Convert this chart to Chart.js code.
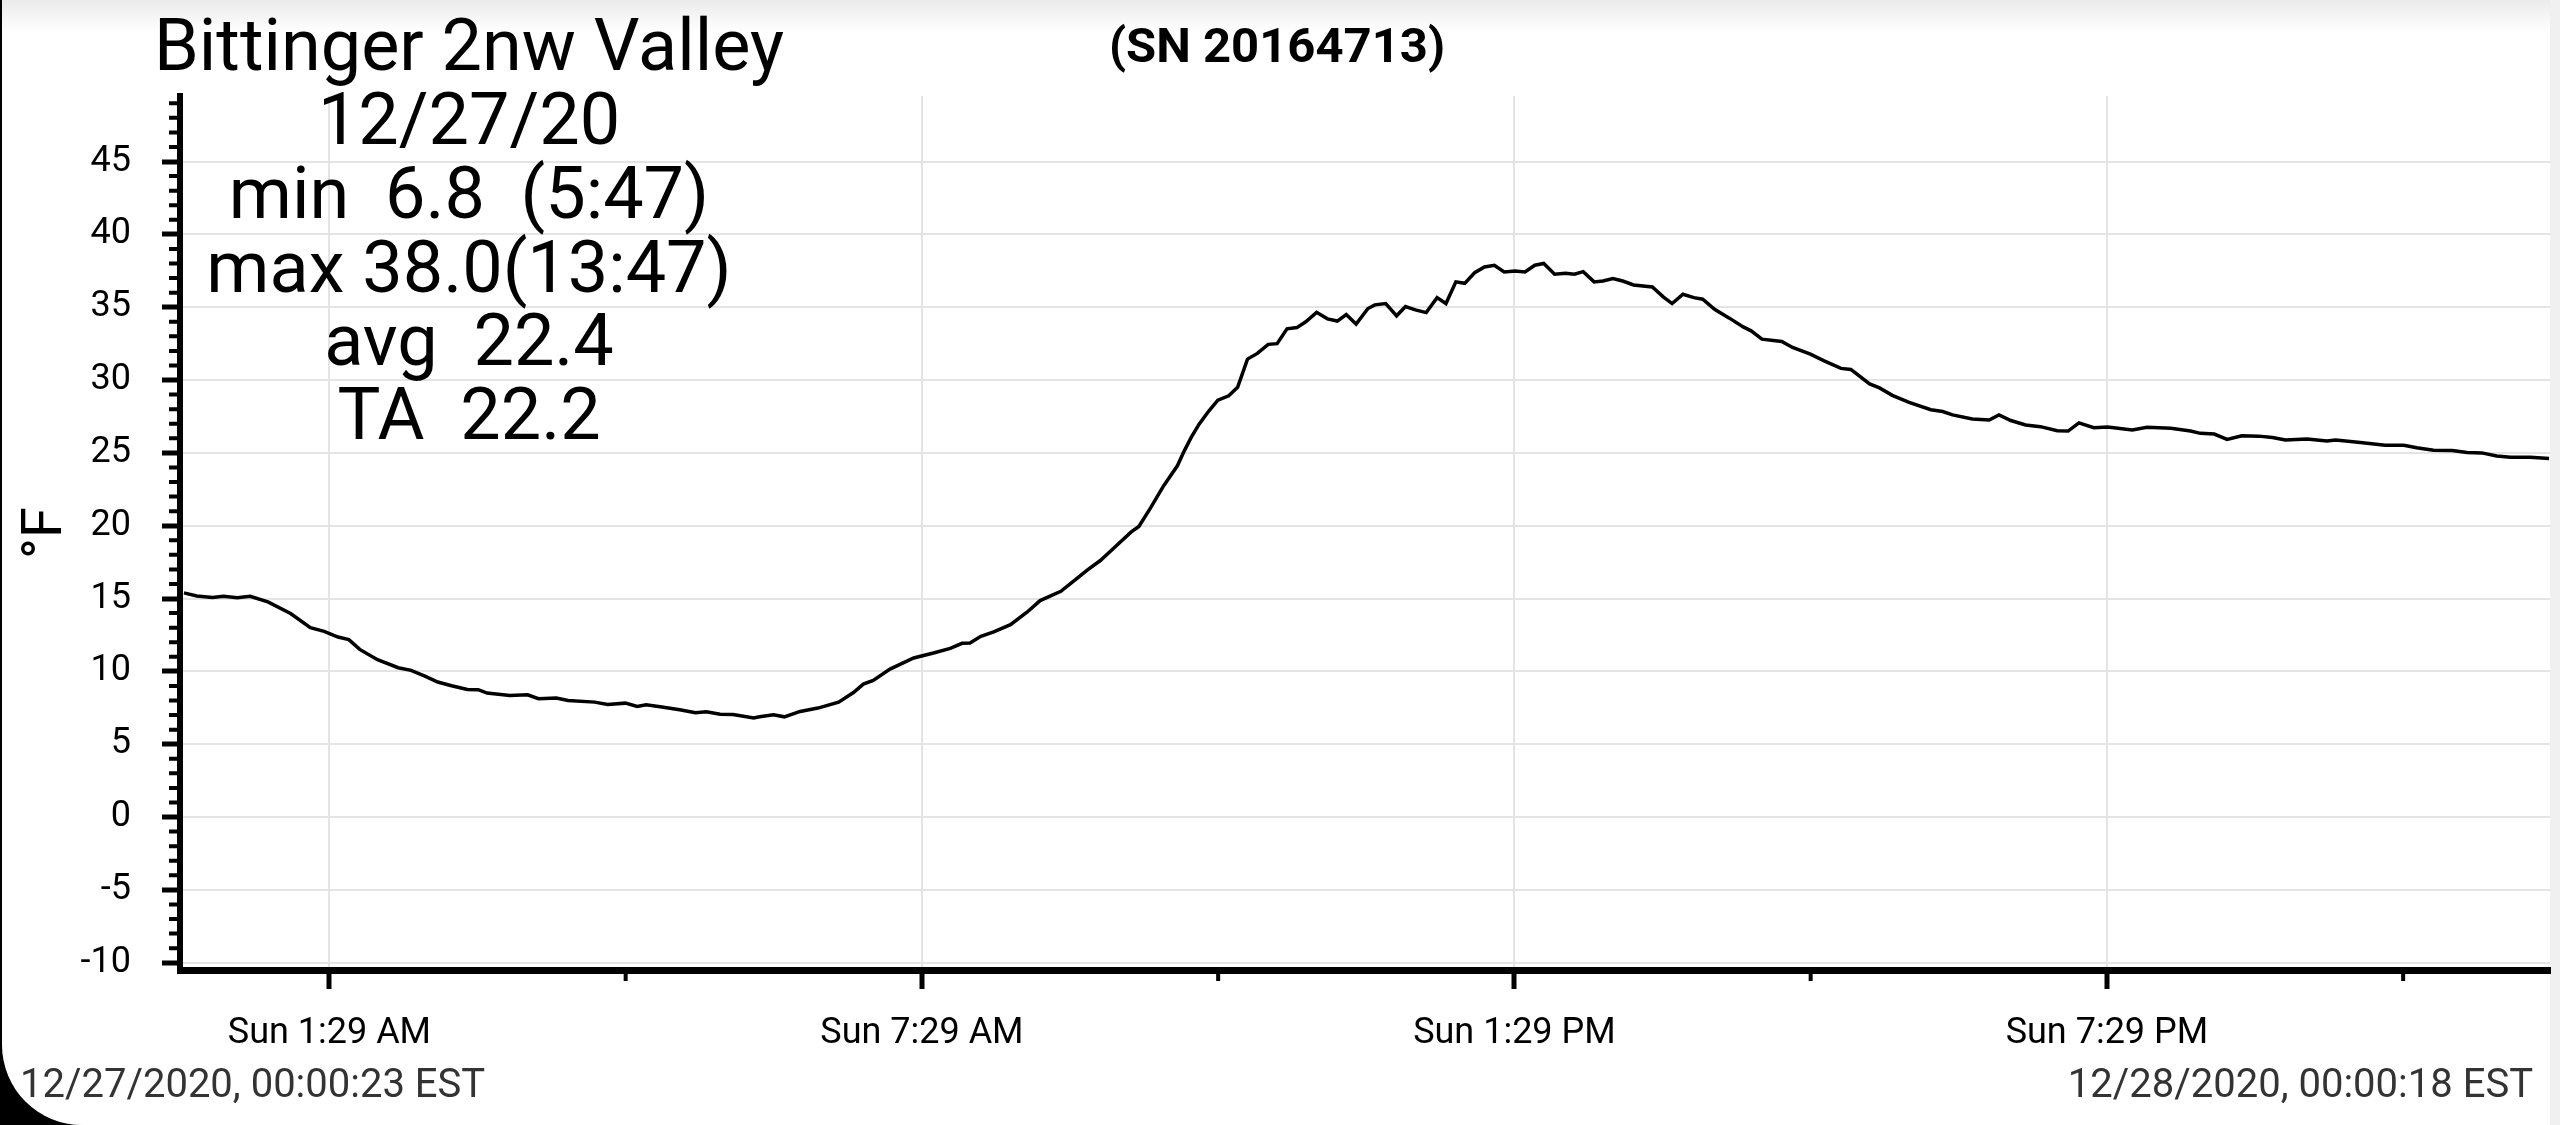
<!DOCTYPE html>
<html>
<head>
<meta charset="utf-8">
<script src="https://cdn.jsdelivr.net/npm/chart.js@4.4.1/dist/chart.umd.min.js"></script>
<style>
  html, body { margin: 0; padding: 0; background: #000; }
  #frame { position: absolute; left: 0; top: 0; width: 2560px; height: 1125px; overflow: hidden; background: #000; }
  #panel { position: absolute; left: 2px; top: 0; width: 2548px; height: 1125px;
           background: linear-gradient(#ebebeb 0px, #ffffff 32px); border-bottom-left-radius: 80px; }
  #edge { position: absolute; left: 2550px; top: 0; width: 10px; height: 1125px; background: #f0f0f0; }
  #chart { position: absolute; left: 0; top: 0; }
</style>
</head>
<body>
<div id="frame">
  <div id="panel"></div>
  <div id="edge"></div>
  <canvas id="chart" width="2560" height="1125"></canvas>
</div>
<script>
// hours since midnight 12/27/2020 (EST)
const hours = [
  0.01, 0.14, 0.30, 0.41, 0.55, 0.68, 0.86, 1.09, 1.29, 1.43, 1.57, 1.68, 1.79, 1.97,
  2.18, 2.31, 2.45, 2.58, 2.72, 2.88, 2.99, 3.08, 3.31, 3.49, 3.60, 3.78, 3.90, 4.17,
  4.30, 4.48, 4.60, 4.69, 4.85, 5.03, 5.19, 5.30, 5.44, 5.57, 5.78, 5.84, 5.98, 6.09,
  6.25, 6.43, 6.64, 6.79, 6.89, 6.99, 7.16, 7.40, 7.60, 7.77, 7.89, 7.97, 8.08, 8.21,
  8.38, 8.55, 8.68, 8.89, 9.06, 9.16, 9.29, 9.43, 9.60, 9.68, 9.80, 9.93, 10.07, 10.14,
  10.21, 10.29, 10.39, 10.48, 10.59, 10.68, 10.78, 10.88, 10.99, 11.08, 11.18, 11.28,
  11.37, 11.48, 11.59, 11.69, 11.78, 11.88, 12.00, 12.07, 12.18, 12.29, 12.38, 12.48,
  12.59, 12.70, 12.79, 12.89, 12.98, 13.08, 13.18, 13.28, 13.38, 13.49, 13.59, 13.69,
  13.78, 13.89, 14.00, 14.09, 14.18, 14.29, 14.38, 14.48, 14.58, 14.69, 14.88, 14.99,
  15.08, 15.19, 15.30, 15.39, 15.51, 15.66, 15.80, 15.88, 15.99, 16.19, 16.30, 16.48,
  16.62, 16.79, 16.89, 17.08, 17.18, 17.31, 17.48, 17.70, 17.82, 17.92, 18.12, 18.29,
  18.39, 18.51, 18.66, 18.81, 18.98, 19.09, 19.20, 19.35, 19.49, 19.74, 19.89, 20.13,
  20.33, 20.43, 20.57, 20.70, 20.85, 21.02, 21.16, 21.29, 21.51, 21.71, 21.80, 22.05,
  22.30, 22.49, 22.62, 22.79, 22.98, 23.13, 23.28, 23.43, 23.57, 23.77, 23.96
];
const tempF = [
  15.39, 15.18, 15.07, 15.16, 15.05, 15.16, 14.77, 13.97, 13.00, 12.75, 12.36, 12.18, 11.51, 10.80,
  10.25, 10.07, 9.68, 9.27, 9.01, 8.76, 8.74, 8.51, 8.35, 8.39, 8.12, 8.17, 8.00, 7.89,
  7.73, 7.82, 7.59, 7.71, 7.55, 7.36, 7.16, 7.22, 7.06, 7.04, 6.80, 6.88, 7.02, 6.88,
  7.25, 7.48, 7.89, 8.55, 9.13, 9.38, 10.16, 10.92, 11.26, 11.58, 11.93, 11.95, 12.41, 12.71,
  13.21, 14.08, 14.86, 15.50, 16.42, 16.97, 17.61, 18.49, 19.56, 19.95, 21.24, 22.73, 24.11, 25.14,
  26.06, 26.97, 27.89, 28.62, 28.92, 29.50, 31.44, 31.83, 32.45, 32.50, 33.52, 33.60,
  34.00, 34.65, 34.20, 34.05, 34.50, 33.84, 34.91, 35.16, 35.25, 34.41, 35.05, 34.82,
  34.63, 35.66, 35.25, 36.74, 36.64, 37.37, 37.76, 37.88, 37.42, 37.49, 37.42, 37.88,
  38.00, 37.26, 37.33, 37.26, 37.44, 36.74, 36.80, 36.96, 36.80, 36.53, 36.39, 35.71,
  35.25, 35.89, 35.66, 35.55, 34.86, 34.25, 33.65, 33.38, 32.81, 32.65, 32.24, 31.78,
  31.32, 30.80, 30.73, 29.73, 29.46, 28.95, 28.46, 27.96, 27.84, 27.61, 27.33, 27.26,
  27.61, 27.22, 26.92, 26.80, 26.52, 26.50, 27.06, 26.73, 26.78, 26.57, 26.76, 26.69,
  26.50, 26.34, 26.29, 25.92, 26.18, 26.15, 26.06, 25.88, 25.95, 25.81, 25.88, 25.72,
  25.53, 25.53, 25.35, 25.18, 25.16, 25.02, 25.00, 24.79, 24.70, 24.70, 24.61
];

// x ticks every 3 h starting 1:29, labels on every other one
const xTickHours = [1.483, 4.483, 7.483, 10.483, 13.483, 16.483, 19.483, 22.483];
const xTickLabels = ['Sun 1:29 AM', '', 'Sun 7:29 AM', '', 'Sun 1:29 PM', '', 'Sun 7:29 PM', ''];
const xRange = [-0.03, 23.97];
const yRange = [-10.5, 49.5];
const yLabelStep = 5;

const stationName = 'Bittinger 2nw Valley';
const serialText = '(SN 20164713)';
const summaryLines = ['12/27/20', 'min  6.8  (5:47)', 'max 38.0(13:47)', 'avg  22.4', 'TA  22.2'];
const yAxisTitle = '°F';
const startStamp = '12/27/2020, 00:00:23 EST';
const endStamp = '12/28/2020, 00:00:18 EST';

Chart.defaults.font.family = 'Roboto';
Chart.defaults.color = '#000';

const minorTicks = {
  id: 'minorTicks',
  afterDraw(chart) {
    const { ctx, scales: { x, y } } = chart;
    ctx.save();
    ctx.strokeStyle = '#000';
    ctx.lineWidth = 4;
    ctx.beginPath();
    y.ticks.forEach(t => {
      if (t.value % yLabelStep !== 0) {
        const py = y.getPixelForValue(t.value);
        ctx.moveTo(y.right - 11, py);
        ctx.lineTo(y.right, py);
      }
    });
    x.ticks.forEach((t, i) => {
      if (i % 2) {
        const px = x.getPixelForValue(t.value);
        ctx.moveTo(px, x.top);
        ctx.lineTo(px, x.top + 11);
      }
    });
    ctx.stroke();
    ctx.restore();
  }
};

const texts = {
  id: 'texts',
  afterDraw(chart) {
    const ctx = chart.ctx;
    ctx.save();
    ctx.fillStyle = '#000';
    ctx.textAlign = 'center';
    ctx.textBaseline = 'alphabetic';
    ctx.font = '72px Roboto';
    ctx.fillText(stationName, 469, 70);
    summaryLines.forEach((s, i) => ctx.fillText(s, 469, 144 + i * 73.8));

    ctx.font = 'bold 49px Roboto';
    ctx.fillText(serialText, 1277, 62);

    ctx.save();
    ctx.font = '56px Roboto';
    ctx.translate(61, 533);
    ctx.rotate(-Math.PI / 2);
    ctx.fillText(yAxisTitle, 0, 0);
    ctx.restore();

    ctx.fillStyle = '#333';
    ctx.font = '40px Roboto';
    ctx.textAlign = 'left';
    ctx.fillText(startStamp, 20, 1097);
    ctx.textAlign = 'right';
    ctx.fillText(endStamp, 2533, 1097);
    ctx.restore();
  }
};

new Chart(document.getElementById('chart'), {
  type: 'line',
  data: {
    datasets: [{
      data: hours.map((h, i) => ({ x: h, y: tempF[i] })),
      borderColor: '#000',
      borderWidth: 3.5,
      pointRadius: 0,
      tension: 0
    }]
  },
  options: {
    responsive: false,
    devicePixelRatio: 1,
    animation: false,
    layout: { padding: { top: 96, right: 10, left: 0, bottom: 0 } },
    plugins: { legend: { display: false }, tooltip: { enabled: false } },
    scales: {
      x: {
        type: 'linear',
        min: xRange[0],
        max: xRange[1],
        afterBuildTicks: scale => { scale.ticks = xTickHours.map(v => ({ value: v })); },
        afterFit: scale => { scale.height = 155; },
        border: { color: '#000', width: 7 },
        grid: {
          color: c => (c.index % 2 ? 'rgba(0,0,0,0)' : '#e4e4e4'),
          lineWidth: 2,
          tickColor: c => (c.index % 2 ? 'rgba(0,0,0,0)' : '#000'),
          tickWidth: 5,
          tickLength: 19
        },
        ticks: {
          autoSkip: false,
          maxRotation: 0,
          padding: 23,
          font: { size: 36 },
          callback: (v, i) => xTickLabels[i]
        }
      },
      y: {
        min: yRange[0],
        max: yRange[1],
        afterBuildTicks: scale => {
          const t = [];
          for (let v = Math.ceil(yRange[0]); v <= Math.floor(yRange[1]); v++) t.push({ value: v });
          scale.ticks = t;
        },
        afterFit: scale => { scale.width = 180; },
        border: { color: '#000', width: 6 },
        grid: {
          color: c => (c.tick && c.tick.value % yLabelStep === 0 ? '#e4e4e4' : 'rgba(0,0,0,0)'),
          lineWidth: 2,
          tickColor: c => (c.tick && c.tick.value % yLabelStep === 0 ? '#000' : 'rgba(0,0,0,0)'),
          tickWidth: 5,
          tickLength: 18
        },
        ticks: {
          autoSkip: false,
          padding: 31,
          font: { size: 36 },
          callback: v => (v % yLabelStep === 0 ? String(v) : '')
        }
      }
    }
  },
  plugins: [minorTicks, texts]
});
</script>
</body>
</html>
